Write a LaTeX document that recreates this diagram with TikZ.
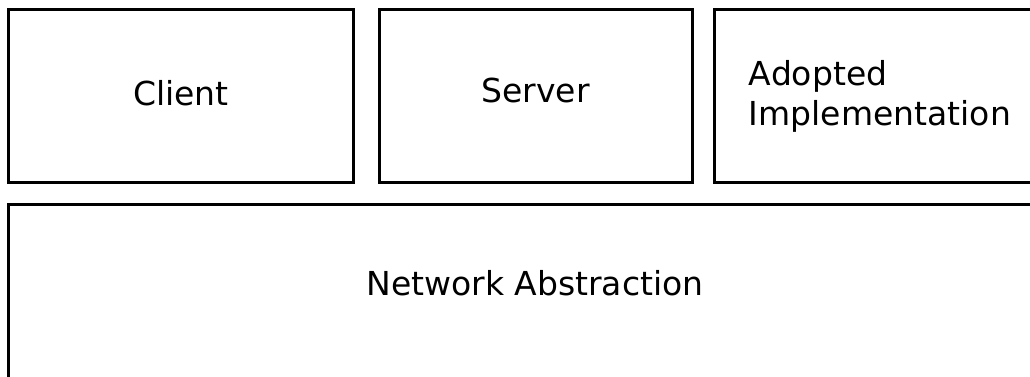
\documentclass[tikz,border=0pt]{standalone}
\usepackage{fontspec}
\setmainfont{DejaVu Sans}
\usepackage{tikz}
\usetikzlibrary{positioning}
\tikzset{
    %Define style for boxes
    layer/.style={
           rectangle,
           draw=black, line width=3pt,
           outer sep=0pt,
           minimum height=172.2pt,
           font=\fontsize{33}{40}\selectfont,
           text centered,
           },
    %Define style for loose text
    layertext/.style={
           font=\fontsize{33}{40}\selectfont,
           inner sep=0pt,
           },
}
\begin{document}
\begin{tikzpicture}[x=1pt,y=1pt,node distance=26pt]
\useasboundingbox (0,0) rectangle (1030,-377);
\clip (0,0) rectangle (1030,-377);
\node[layer, anchor=north west, minimum width=345pt](client) at (8.5,-9.8){\raisebox{6pt}{Client}};
\node[layer, right=26pt of client, minimum width=312.5pt](server){\raisebox{12pt}{Server}};
\node[layer, right=22.5pt of server, minimum width=331pt, align=left](adopted){Adopted\\Implementation};
\node[layer, anchor=north west, minimum width=1053pt, minimum height=250pt](network) at ([yshift=-22pt]client.south west){};
\node[layertext](networktext) at ([yshift=-79pt]network.north){Network Abstraction};
\end{tikzpicture}
\end{document}
